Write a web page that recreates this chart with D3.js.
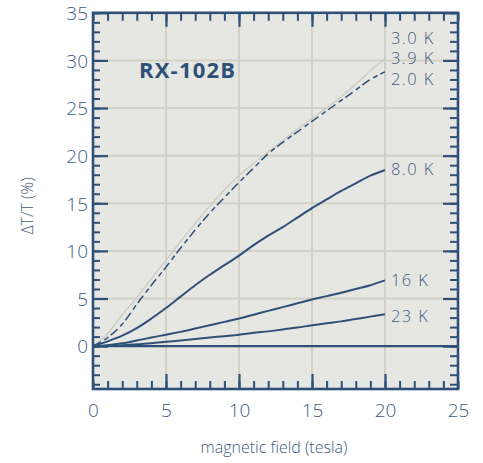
<!DOCTYPE html>
<html><head><meta charset="utf-8">
<script src="https://cdn.jsdelivr.net/npm/d3@7"></script>
<style>
body{margin:0;background:#fff;}
svg text{font-family:"Open Sans","Noto Sans",sans-serif;}
</style></head>
<body><svg id="c" width="483" height="463"></svg>
<script>
const fields = [0,1,2,3,4,5,6,7,8,9,10,11,12,13,14,15,16,17,18,19,20];
const t2_0 = [0,0.9,2.3,4.4,6.4,8.3,10.3,12.2,14.0,15.6,17.2,18.7,20.2,21.4,22.5,23.6,24.7,25.8,26.9,28.0,28.8];
const t3_9 = [0,1.3,3.3,5.1,7.1,9.0,11.0,12.9,14.7,16.4,17.9,19.2,20.4,21.6,22.8,23.9,25.0,26.2,27.5,28.9,30.2];
const t8_0 = [0,0.5,1.1,1.9,2.9,4.0,5.2,6.4,7.5,8.5,9.5,10.6,11.6,12.5,13.5,14.5,15.4,16.3,17.1,17.9,18.5];
const t16 = [0,0.1,0.3,0.6,0.9,1.2,1.5,1.85,2.2,2.55,2.9,3.3,3.7,4.1,4.5,4.9,5.25,5.6,6.0,6.4,6.9];
const t23 = [0,0.05,0.1,0.2,0.3,0.45,0.6,0.75,0.9,1.05,1.2,1.4,1.55,1.75,1.95,2.2,2.4,2.6,2.85,3.1,3.35];
const labelNames = ["3.0 K","3.9 K","2.0 K","8.0 K","16 K","23 K"];
const labelValues = [32.4,30.2,28.0,18.6,6.9,3.15];
const xTickValues = [0,5,10,15,20,25];
const yTickValues = [0,5,10,15,20,25,30,35];
const title = "RX-102B";
const xTitle = "magnetic field (tesla)";
const yTitle = "ΔT/T (%)";

const dark = "#2e5078", light = "#c9c9c1", txt = "#3f5d80";
const svg = d3.select("#c");
const x = d3.scaleLinear().domain([0,25]).range([93,458]);
const y = d3.scaleLinear().domain([-4.5,35]).range([389,12.8]);

svg.append("rect").attr("x",x(0)).attr("y",y(35)).attr("width",x(25)-x(0)).attr("height",y(-4.5)-y(35)).attr("fill","#e6e6e2");

const g = svg.append("g");
g.selectAll("line.vg").data([5,10,15,20]).join("line").attr("x1",d=>x(d)).attr("x2",d=>x(d)).attr("y1",y(35)).attr("y2",y(-4.5)).attr("stroke","#d2d1c7").attr("stroke-width",2);
g.selectAll("line.hg").data([5,10,15,20,25,30]).join("line").attr("y1",d=>y(d)).attr("y2",d=>y(d)).attr("x1",x(0)).attr("x2",x(25)).attr("stroke","#d2d1c7").attr("stroke-width",2);

svg.append("line").attr("x1",x(0)).attr("x2",x(25)).attr("y1",y(0)).attr("y2",y(0)).attr("stroke",dark).attr("stroke-width",2.2);

const line = d3.line().x((d,i)=>x(fields[i])).y(d=>y(d)).curve(d3.curveMonotoneX);
svg.append("path").datum(t3_9).attr("d",line).attr("fill","none").attr("stroke",light).attr("stroke-width",1.2);
svg.append("path").datum(t2_0).attr("d",line).attr("fill","none").attr("stroke",dark).attr("stroke-width",1.5).attr("stroke-dasharray","9,4,5,3");
[t8_0,t16,t23].forEach(s=>{
  svg.append("path").datum(s).attr("d",line).attr("fill","none").attr("stroke",dark).attr("stroke-width",2);
});

const minorX = d3.range(0,26), minorY = d3.range(-4,36);
function addAxis(axisFn, scale, pos, vals, size, sw){
  const a = axisFn(scale).tickValues(vals).tickSize(size).tickFormat("");
  const gg = svg.append("g").attr("transform",pos).call(a);
  gg.select(".domain").remove();
  gg.selectAll(".tick line").attr("stroke",dark).attr("stroke-width",sw);
  return gg;
}
addAxis(d3.axisBottom, x, `translate(0,${y(-4.5)})`, minorX, -8, 2);
addAxis(d3.axisBottom, x, `translate(0,${y(-4.5)})`, [5,10,15,20], -15, 2.2);
addAxis(d3.axisTop, x, `translate(0,${y(35)})`, minorX, -8, 2);
addAxis(d3.axisTop, x, `translate(0,${y(35)})`, [5,10,15,20], -14, 2.2);
addAxis(d3.axisLeft, y, `translate(${x(0)},0)`, minorY, -7, 2);
addAxis(d3.axisLeft, y, `translate(${x(0)},0)`, yTickValues, -15, 2.2);
addAxis(d3.axisRight, y, `translate(${x(25)},0)`, minorY, -8, 2);
addAxis(d3.axisRight, y, `translate(${x(25)},0)`, yTickValues, -15, 2.2);

svg.append("rect").attr("x",x(0)).attr("y",y(35)).attr("width",x(25)-x(0)).attr("height",y(-4.5)-y(35)).attr("fill","none").attr("stroke",dark).attr("stroke-width",2.6);

const xl = d3.axisBottom(x).tickValues(xTickValues).tickSize(0).tickPadding(0).tickFormat(d3.format("d"));
const xg = svg.append("g").attr("transform",`translate(0,${y(-4.5)})`).call(xl);
xg.select(".domain").remove();
xg.selectAll("text").attr("y",28).attr("dy",0).attr("font-size",19).attr("font-weight",300).attr("fill",txt).style("font-family","'Open Sans',sans-serif");
const yl = d3.axisLeft(y).tickValues(yTickValues).tickSize(0).tickPadding(5).tickFormat(d3.format("d"));
const yg = svg.append("g").attr("transform",`translate(${x(0)},0)`).call(yl);
yg.select(".domain").remove();
yg.selectAll("text").attr("dy","0.36em").attr("font-size",19).attr("font-weight",300).attr("fill",txt).style("font-family","'Open Sans',sans-serif");

svg.selectAll("text.cl").data(labelNames).join("text").attr("class","cl")
  .attr("x",391).attr("y",(d,i)=>y(labelValues[i])).attr("dy","0.36em")
  .attr("font-size",16.5).attr("font-weight",300).attr("letter-spacing",1.4).attr("fill",txt).text(d=>d);

svg.append("text").attr("x",139).attr("y",78).attr("font-size",22).attr("font-weight",700).attr("letter-spacing",1.2).attr("fill",dark).text(title);

svg.append("text").attr("x",274).attr("y",453).attr("text-anchor","middle").attr("font-size",16).attr("font-weight",300).attr("fill",txt).text(xTitle);
svg.append("text").attr("transform","translate(33,206) rotate(-90)").attr("text-anchor","middle").attr("font-size",16).attr("font-weight",300).attr("fill",txt).text(yTitle);
</script></body></html>
